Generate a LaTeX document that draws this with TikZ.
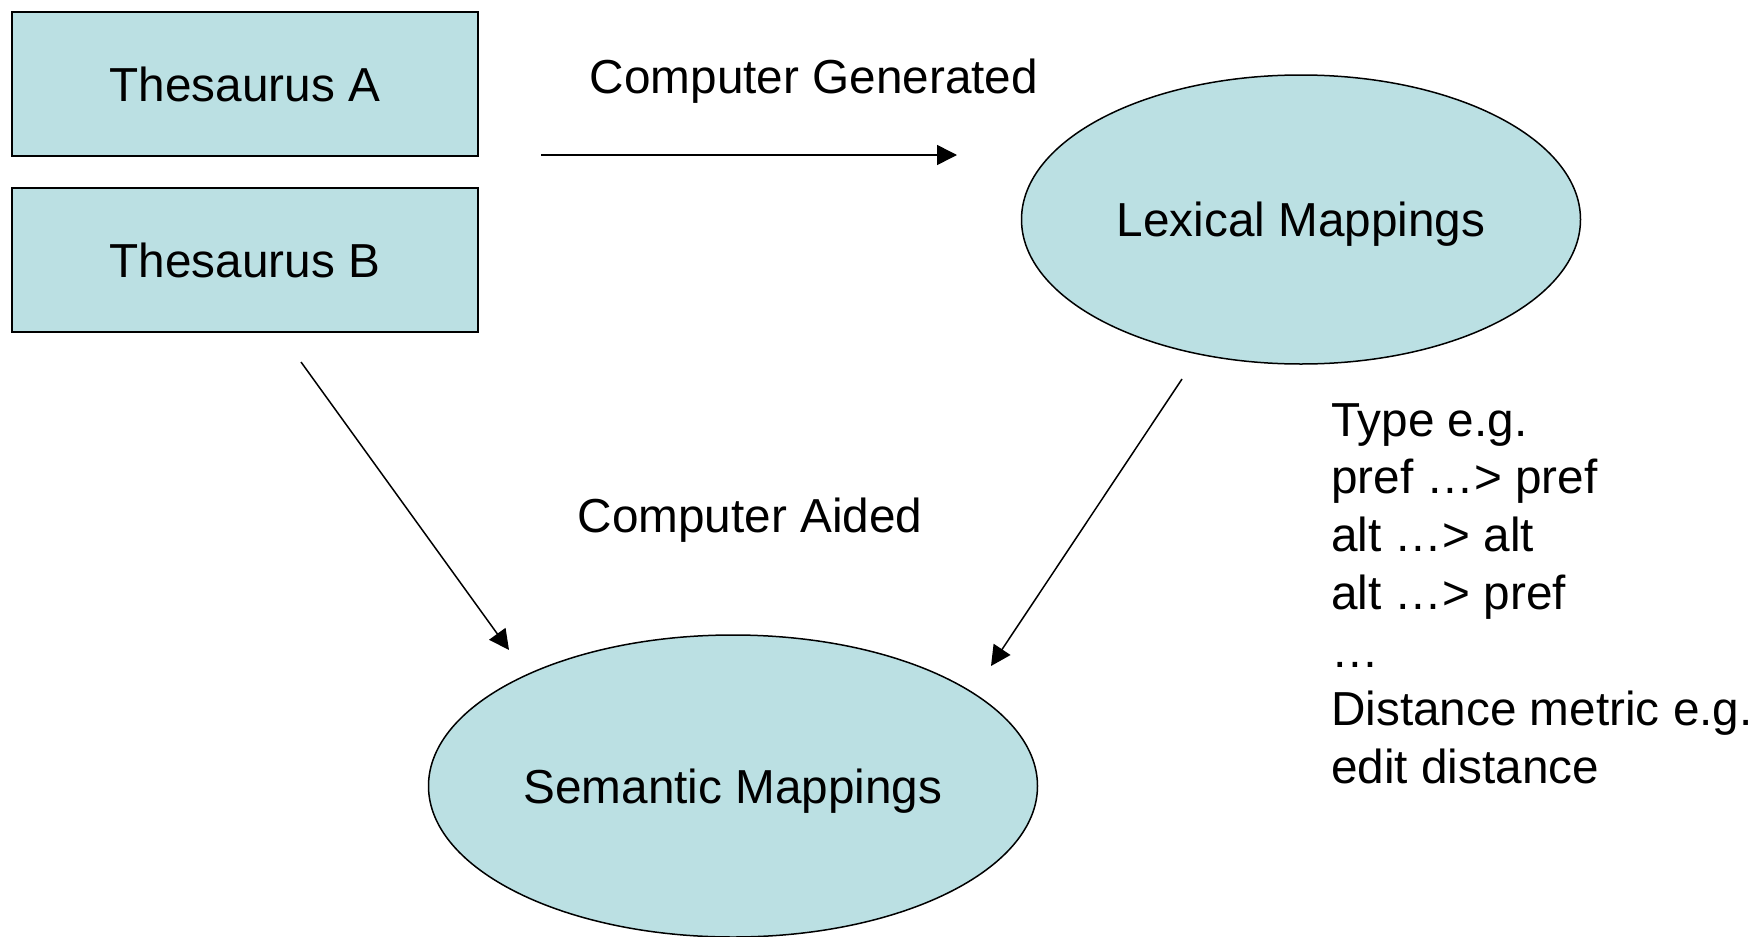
\documentclass[tikz,border=0pt]{standalone}
\usepackage{fontspec}
\setmainfont{Liberation Sans}
\usetikzlibrary{shapes.geometric,arrows.meta}
\definecolor{boxfill}{RGB}{187,224,227}
\tikzset{
  txt/.style={font=\fontsize{47.7}{57.9}\selectfont, text height=34.2pt, text depth=0pt},
  thesbox/.style={txt, draw=black, line width=1.5pt, fill=boxfill, minimum width=466pt, minimum height=144pt, inner sep=0pt},
  mapell/.style={txt, draw=black, line width=1.5pt, fill=boxfill, ellipse, inner sep=0pt},
  lbl/.style={txt, inner sep=0pt},
  conn/.style={line width=1.5pt, -{Triangle[length=20pt,width=20pt]}}
}
\begin{document}
\begin{tikzpicture}[x=1pt,y=-1pt]
\useasboundingbox (0,0) rectangle (1757,937);
\node[thesbox] (tA) at (245,84) {Thesaurus A};
\node[thesbox] (tB) at (245,260) {Thesaurus B};
\node[mapell, minimum width=559pt, minimum height=289pt] (lex) at (1301,219.5) {Lexical Mappings};
\node[mapell, minimum width=609pt, minimum height=302pt] (sem) at (733,786) {Semantic Mappings};
\node[lbl] (cg) at (814,76) {Computer Generated};
\node[lbl] (ca) at (750,515) {Computer Aided};
\node[inner sep=0pt, font=\fontsize{47.7}{57.9}\selectfont, anchor=north west, align=left] (types) at (1331,403) {Type e.g.\\pref \ldots> pref\\alt \ldots> alt\\alt \ldots> pref\\\ldots\\Distance metric e.g.\\edit distance};
\coordinate (h1) at (541,155);
\coordinate (h2) at (957,155);
\coordinate (l1) at (301,362);
\coordinate (l2) at (509,650);
\coordinate (r1) at (1182,379);
\coordinate (r2) at (991,666);
\draw[conn] (h1) -- (h2);
\draw[conn] (l1) -- (l2);
\draw[conn] (r1) -- (r2);
\end{tikzpicture}
\end{document}
